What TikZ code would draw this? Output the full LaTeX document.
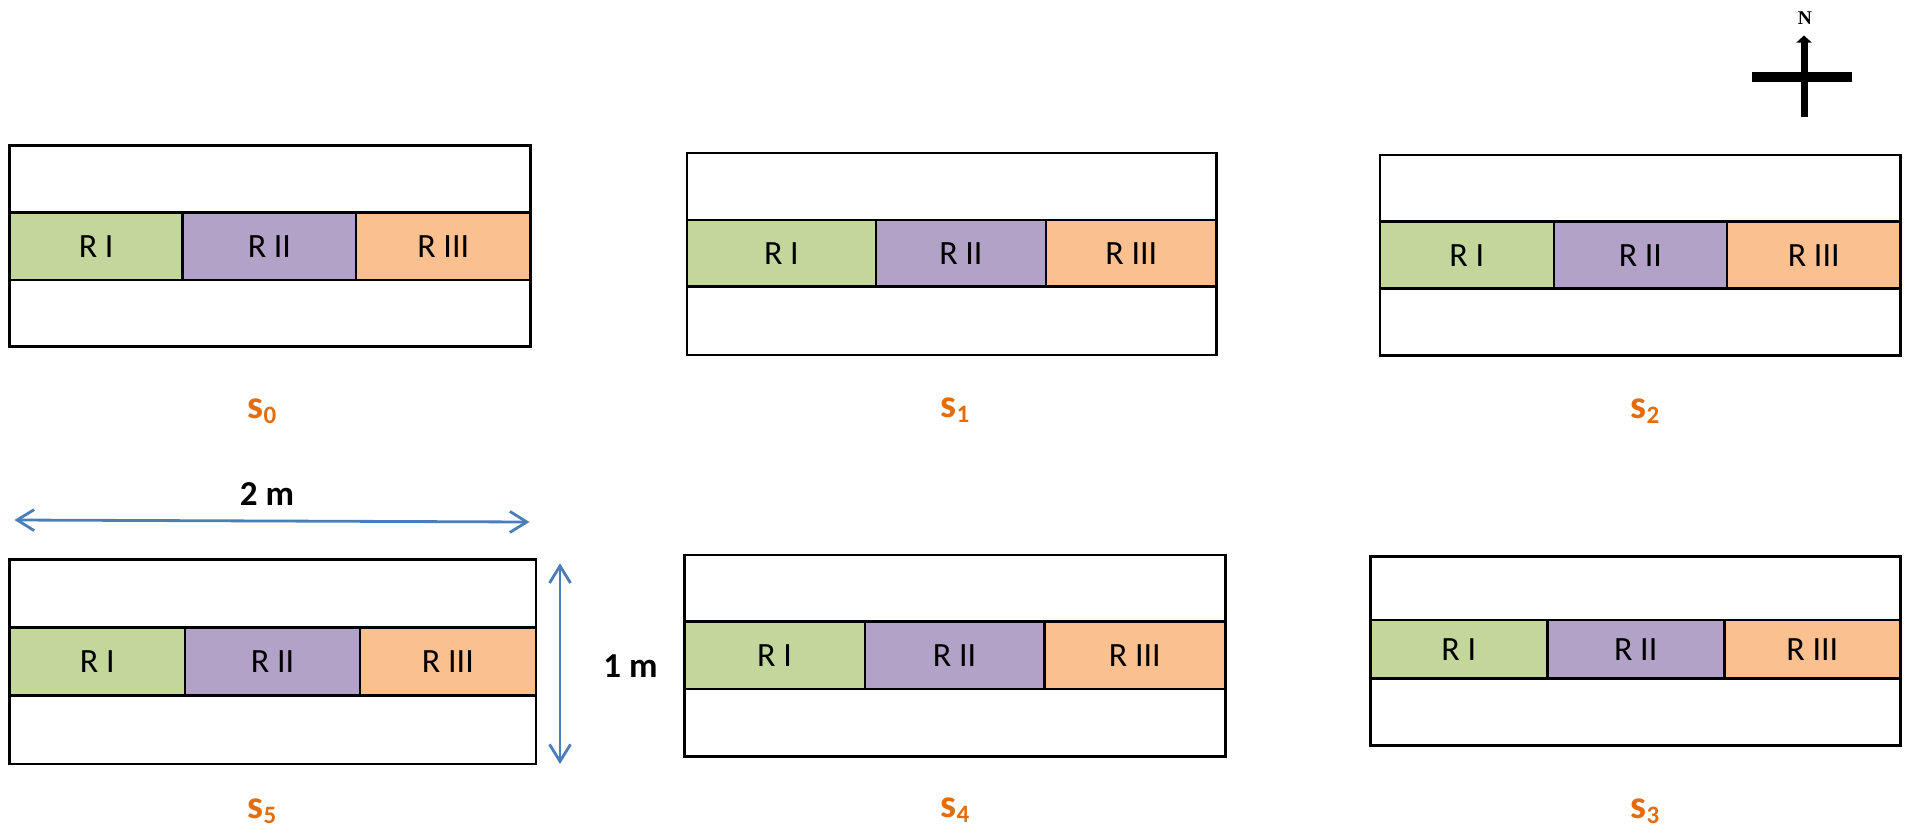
\documentclass[tikz,border=0pt]{standalone}
\usepackage{fontspec}
\setmainfont{Carlito}
\newfontfamily\nfont{Liberation Serif}
\usetikzlibrary{arrows.meta}
\definecolor{cgreen}{HTML}{C3D69B}
\definecolor{cpurple}{HTML}{B3A2C7}
\definecolor{corange}{HTML}{FAC090}
\definecolor{clabel}{HTML}{E46C0A}
\definecolor{cblue}{HTML}{4A7EBB}
\tikzset{
  boxline/.style={draw=black, line width=2.6pt},
  rlabel/.style={inner sep=0pt, font=\fontsize{34}{40}\selectfont},
  slabel/.style={inner sep=0pt, anchor=base, text=clabel, font=\fontsize{40}{48}\selectfont\bfseries},
  dimtext/.style={inner sep=0pt, font=\fontsize{35}{40}\selectfont\bfseries},
  dimarrow/.style={draw=cblue, line width=2.8pt,
    {Straight Barb[length=17pt,width=21pt,line width=2.8pt]}-{Straight Barb[length=17pt,width=21pt,line width=2.8pt]}},
}
\newcommand\plotbox[9]{%
  \draw[boxline] (#2,#6) rectangle (#5,#9);
  \draw[boxline,fill=cgreen] (#2,#7) rectangle (#3,#8);
  \draw[boxline,fill=cpurple] (#3,#7) rectangle (#4,#8);
  \draw[boxline,fill=corange] (#4,#7) rectangle (#5,#8);
  \node[rlabel] (#1a) at ({(#2+#3)/2},{(#7+#8)/2}) {R I};
  \node[rlabel] (#1b) at ({(#3+#4)/2},{(#7+#8)/2}) {R II};
  \node[rlabel] (#1c) at ({(#4+#5)/2},{(#7+#8)/2}) {R III};
}
\newcommand\sname[1]{s\raisebox{-5pt}{\fontsize{25}{25}\selectfont #1}}
\begin{document}
\begin{tikzpicture}[x=1pt,y=-1pt]
\useasboundingbox (0,0) rectangle (1907,828);
% plots
\plotbox{p0}{9.6}{182.7}{356.1}{530.4}{145.7}{212.7}{280}{346.7}
\plotbox{p1}{686.9}{875.8}{1046}{1216.6}{153}{220}{286.7}{355}
\plotbox{p2}{1379.8}{1553.8}{1727}{1900.5}{155}{221.7}{288.7}{355.7}
\plotbox{p5}{9.6}{185}{360}{535.8}{559.3}{627.7}{695.7}{764}
\plotbox{p4}{684.2}{864.9}{1044.2}{1225.4}{555}{621.7}{689}{756.7}
\plotbox{p3}{1370.2}{1547.2}{1724.2}{1900.5}{556.7}{620}{678.3}{745.7}
% labels
\node[slabel] (s0) at (262,418) {\sname{0}};
\node[slabel] (s1) at (955,417) {\sname{1}};
\node[slabel] (s2) at (1645,418) {\sname{2}};
\node[slabel] (s3) at (1645,818) {\sname{3}};
\node[slabel] (s4) at (955,817) {\sname{4}};
\node[slabel] (s5) at (262,818) {\sname{5}};
% dimensions
\coordinate (wL) at (14.5,520);
\coordinate (wR) at (529.5,522);
\draw[dimarrow] (wL) -- (wR);
\node[dimtext] (w) at (267,494) {2 m};
\coordinate (hT) at (560,563.3);
\coordinate (hB) at (560,764);
\draw[dimarrow] (hT) -- (hB);
\node[dimtext] (h) at (630.5,666) {1 m};
% north arrow
\coordinate (nB) at (1804,117.3);
\coordinate (nT) at (1804,35.5);
\coordinate (eL) at (1752,77.3);
\coordinate (eR) at (1852,77.3);
\draw[line width=10pt] (eL) -- (eR);
\draw[line width=7pt,-{Triangle[length=7pt,width=15pt]}] (nB) -- (nT);
\node[inner sep=0pt, font=\nfont\fontsize{19.5}{21}\selectfont\bfseries] (N) at (1805,18.5) {N};
\end{tikzpicture}
\end{document}
